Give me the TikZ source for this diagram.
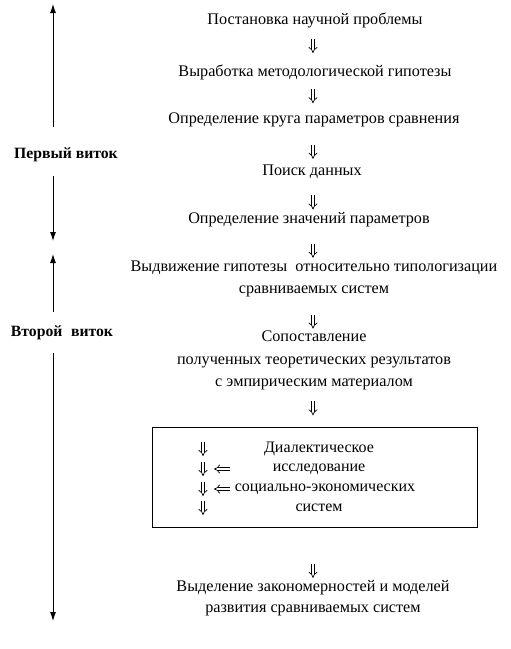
\documentclass[tikz,border=0pt]{standalone}
\usepackage{fontspec}
\setmainfont{Liberation Serif}
\usetikzlibrary{arrows.meta,calc}
\begin{document}
\begin{tikzpicture}[x=1pt,y=-1pt,
  txt/.style={inner sep=0pt,font=\fontsize{16.2}{22.3}\selectfont,align=center},
  txtb/.style={inner sep=0pt,font=\fontsize{16.2}{20.5}\selectfont,align=center},
  intxt/.style={inner sep=0pt,font=\fontsize{16}{20}\selectfont},
  lbl/.style={inner sep=0pt,font=\fontsize{15.7}{18}\selectfont\bfseries},
  dar/.style={double,double distance=2.4pt,line width=0.7pt,-{Implies}},
  sar/.style={line width=0.9pt,-{Latex[length=9pt,width=6pt]}},
  frame/.style={draw,line width=0.8pt}]
\useasboundingbox (0,0) rectangle (511,649);
% right column
\node[txt] (t1) at (315,20) {Постановка научной проблемы};
\node[txt] (t2) at (315,72) {Выработка методологической гипотезы};
\node[txt] (t3) at (314,120) {Определение круга параметров сравнения};
\node[txt] (t4) at (312,172) {Поиск данных};
\node[txt] (t5) at (309,220) {Определение значений параметров};
\node[txt] (t6) at (314,279) {Выдвижение гипотезы\ \ относительно типологизации\\сравниваемых систем};
\node[txt] (t7) at (314,360.5) {Сопоставление\\полученных теоретических результатов\\с эмпирическим материалом};
\node[frame,minimum width=325pt,minimum height=100pt,inner sep=0pt] (box) at (314.5,477) {};
\node[intxt] (b1) at (319,449) {Диалектическое};
\node[intxt] (b2) at (319,469) {исследование};
\node[intxt] (b3) at (325,489) {социально-экономических};
\node[intxt] (b4) at (319,508) {систем};
\node[txtb] (t8) at (313,598) {Выделение закономерностей и моделей\\развития сравниваемых систем};
% double arrows between steps
\foreach \a/\b/\p in {t1/t2/0.5,t2/t3/0.5,t3/t4/0.65,t4/t5/0.7,t5/t6/0.7,t6/t7/0.72,t7/box/0.5,box/t8/0.82}{
  \path (\a.south) -- (\b.north) coordinate[pos=\p] (m);
  \draw[dar] let \p1=(m) in (313pt,\y1+7pt) -- (313pt,\y1-7pt);
}
% arrows inside the box
\foreach \n/\yy in {1/449,2/469,3/489,4/508}{
  \coordinate (v\n) at (203,\yy);
  \draw[dar] ([yshift=7pt]v\n) -- ([yshift=-7pt]v\n);
}
\coordinate (h2) at (222,469);
\coordinate (h3) at (222,489);
\draw[dar] ([xshift=8pt]h2) -- ([xshift=-8pt]h2);
\draw[dar] ([xshift=8pt]h3) -- ([xshift=-8pt]h3);
% left labels and arrows
\node[lbl] (l1) at (66,155) {Первый виток};
\node[lbl] (l2) at (62,333) {Второй\hspace{0.3em} виток};
\coordinate (a1top) at (53,4);
\coordinate (a1bot) at (53,127);
\coordinate (a2top) at (53,176);
\coordinate (a2bot) at (53,241);
\coordinate (a3top) at (53,254);
\coordinate (a3bot) at (53,312);
\coordinate (a4top) at (53,353);
\coordinate (a4bot) at (53,621);
\draw[sar] (a1bot) -- (a1top);
\draw[sar] (a2top) -- (a2bot);
\draw[sar] (a3bot) -- (a3top);
\draw[sar] (a4top) -- (a4bot);
\end{tikzpicture}
\end{document}
